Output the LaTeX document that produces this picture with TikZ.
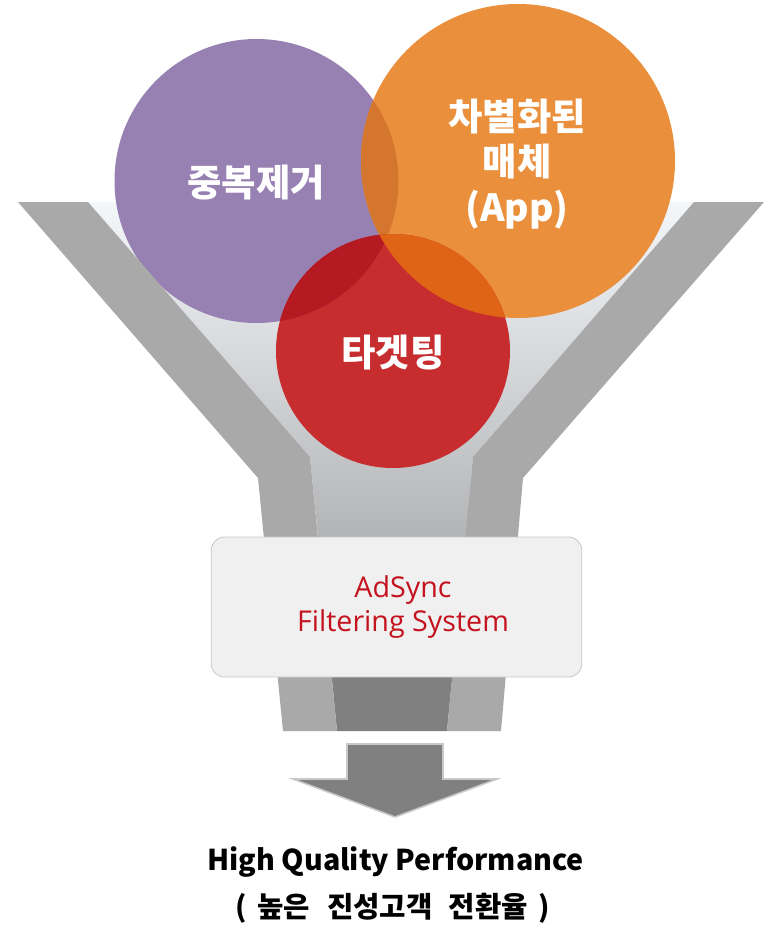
\documentclass[tikz,border=0pt]{standalone}
\usepackage{fontspec}
\usepackage{xcolor}
\usepackage{tikz}

\newfontfamily\krfont{Noto Sans CJK KR}
\newfontfamily\adfont{Open Sans}

\definecolor{wallgray}{HTML}{A9A9A9}
\definecolor{stemgray}{HTML}{808080}
\definecolor{funneltop}{HTML}{F4F7FA}
\definecolor{funnelmid}{HTML}{E2E4E7}
\definecolor{funnelbot}{HTML}{B3B4B6}
\definecolor{dedupcol}{HTML}{9781B2}
\definecolor{mediacol}{HTML}{EA903D}
\definecolor{targetcol}{HTML}{C72C2F}
\definecolor{dmcol}{HTML}{D5762F}
\definecolor{dtcol}{HTML}{B51922}
\definecolor{mtcol}{HTML}{E06415}
\definecolor{boxfill}{HTML}{F0F0F0}
\definecolor{boxline}{HTML}{C8C8C8}
\definecolor{adred}{HTML}{C4121E}

\tikzset{
  circletext/.style={text=white, font=\krfont\bfseries\fontsize{28}{34}\selectfont, align=center, inner sep=0pt},
  filterbox/.style={draw=boxline, fill=boxfill, rounded corners=10pt, line width=0.6pt, minimum width=278pt, minimum height=105pt},
  filterlabel/.style={text=adred, font=\adfont\fontsize{21.5}{25}\selectfont, align=center, inner sep=0pt},
  resulttext/.style={font=\krfont\bfseries\fontsize{21.5}{25}\selectfont, inner sep=0pt, anchor=base},
}

\begin{document}
\begin{tikzpicture}[x=0.75pt,y=0.75pt,yscale=-1,xscale=1]

\useasboundingbox (0,0) rectangle (764,925);
\fill[white] (0,0) rectangle (764,925);

% funnel inside
\shade[top color=funneltop, middle color=funnelmid, bottom color=funnelbot] (88,202) -- (694,202) -- (473,457) -- (466,537) -- (318,537) -- (310,457) -- cycle ;
\fill[stemgray] (318,537) -- (466,537) -- (447,731) -- (337,731) -- cycle ;

% circles
\fill[dedupcol] (256.5,181) circle (142) ;
\fill[mediacol] (518,161) circle (157) ;
\fill[targetcol] (393,351) circle (117) ;

\begin{scope}
\clip (256.5,181) circle (142) ;
\fill[dmcol] (518,161) circle (157) ;
\fill[dtcol] (393,351) circle (117) ;
\end{scope}

\begin{scope}
\clip (518,161) circle (157) ;
\fill[mtcol] (393,351) circle (117) ;
\end{scope}

% funnel walls
\fill[wallgray] (18,202) -- (88,202) -- (310,457) -- (337,731) -- (283,731) -- (258,478) -- cycle ;
\fill[wallgray] (764,202) -- (694,202) -- (473,457) -- (447,731) -- (501,731) -- (523,478) -- cycle ;

% labels
\node[circletext] (dedup) at (256,183) {중복제거};
\node[circletext] (media) at (517,164) {차별화된\\매체\\(App)};
\node[circletext] (target) at (393,353) {타겟팅};

\node[filterbox] (filter) at (396.5,607) {};
\node[filterlabel] (filterlabel) at (403,607) {AdSync\\Filtering System};

% arrow
\draw[fill=stemgray, draw=boxline, line width=1.2pt] (347,744) -- (443,744) -- (443,779) -- (497,779) -- (395,817) -- (293,779) -- (347,779) -- cycle ;

\node[resulttext] (result) at (395.5,870) {High Quality Performance};
\node[resulttext] (resultkr) at (392.5,917) {(\hspace{8pt}높은\hspace{13pt}진성고객\hspace{12pt}전환율\hspace{8pt})};

\end{tikzpicture}
\end{document}
